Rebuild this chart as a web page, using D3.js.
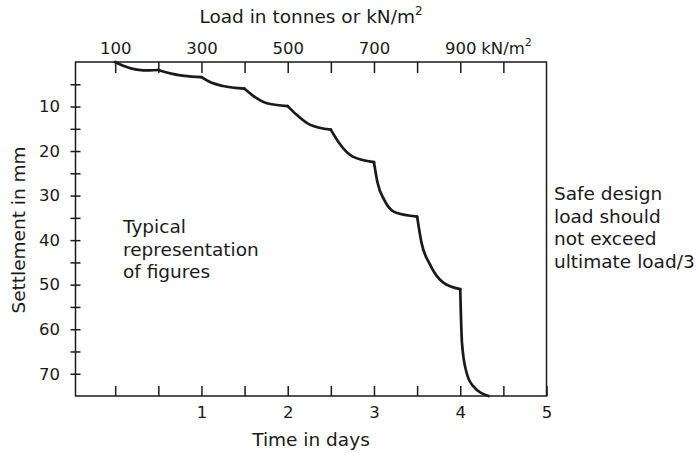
<!DOCTYPE html>
<html>
<head>
<meta charset="utf-8">
<script src="https://cdn.jsdelivr.net/npm/d3@7"></script>
<style>
  body { margin: 0; background: #fff; }
  text { font-family: "DejaVu Sans", sans-serif; fill: #1a1a1a; }
</style>
</head>
<body>
<svg id="chart" width="697" height="453"></svg>
<script>
// load stages, one every half day
var loadDays = [0, 1, 2, 3, 4];
var loadLabels = ["100", "300", "500", "700", "900"];
var halfDays = [0, 0.5, 1, 1.5, 2, 2.5, 3, 3.5, 4, 4.5];
var timeTicks = [0, 0.5, 1, 1.5, 2, 2.5, 3, 3.5, 4, 4.5, 5];
var settleTicks = [5, 10, 15, 20, 25, 30, 35, 40, 45, 50, 55, 60, 65, 70];
var stageBreaks = [0.5, 1, 1.5, 2, 2.5, 3, 3.5, 4];

// settlement curve (days, mm)
var curveDays = [0, 0.1, 0.25, 0.4, 0.5,
  0.65, 0.8, 1.0,
  1.1, 1.25, 1.5,
  1.6, 1.75, 2.0,
  2.1, 2.25, 2.5,
  2.6, 2.75, 3.0,
  3.04, 3.12, 3.25, 3.5,
  3.55, 3.65, 3.8, 4.0,
  4.02, 4.07, 4.15, 4.33];
var curveMm = [0, 0.9, 1.7, 1.9, 1.8,
  2.6, 3.1, 3.4,
  4.5, 5.4, 6.0,
  7.6, 9.2, 9.9,
  11.8, 14.0, 15.2,
  18.3, 21.2, 22.5,
  27.0, 31.0, 33.8, 34.7,
  40.5, 45.5, 49.5, 51.0,
  63.0, 69.5, 72.8, 75.0];

var svg = d3.select("#chart");
var x = d3.scaleLinear().domain([-0.46, 5]).range([75.5, 546.5]);
var y = d3.scaleLinear().domain([0, 75]).range([62, 396]);

// frame
svg.append("rect")
  .attr("x", x.range()[0]).attr("y", y.range()[0])
  .attr("width", x.range()[1] - x.range()[0])
  .attr("height", y.range()[1] - y.range()[0])
  .attr("fill", "none").attr("stroke", "#1a1a1a").attr("stroke-width", 1.5);

// top axis: load
var topAxis = svg.append("g")
  .attr("transform", "translate(0," + y.range()[0] + ")")
  .call(d3.axisTop(x).tickValues(halfDays).tickSize(-11)
    .tickFormat(function(d){ var i = loadDays.indexOf(d); return i >= 0 ? loadLabels[i] : ""; }));
topAxis.select(".domain").remove();
topAxis.selectAll("line").attr("stroke", "#1a1a1a").attr("stroke-width", 1.5);
topAxis.selectAll("text").attr("font-size", 16.5).attr("font-family", "DejaVu Sans").attr("fill", "#1a1a1a")
  .attr("y", -8).attr("dy", 0);
var last = topAxis.selectAll("text").filter(function(d){ return d === 4; });
var w900 = last.node().getComputedTextLength();
var unit = svg.append("text")
  .attr("x", x(4) + w900 / 2).attr("y", 54)
  .attr("font-size", 16.5);
unit.append("tspan").text("\u00a0kN/m");
unit.append("tspan").attr("font-size", 11).attr("dy", -8).text("2");

// bottom axis: time
var bottomAxis = svg.append("g")
  .attr("transform", "translate(0," + y.range()[1] + ")")
  .call(d3.axisBottom(x).tickValues(timeTicks).tickSize(-10)
    .tickFormat(function(d){ return (d > 0 && d % 1 === 0) ? d : ""; }));
bottomAxis.select(".domain").remove();
bottomAxis.selectAll("line").attr("stroke", "#1a1a1a").attr("stroke-width", 1.5);
bottomAxis.selectAll("text").attr("font-size", 16.5).attr("font-family", "DejaVu Sans").attr("fill", "#1a1a1a")
  .attr("y", 22).attr("dy", 0);

// left axis: settlement
var leftAxis = svg.append("g")
  .attr("transform", "translate(" + x.range()[0] + ",0)")
  .call(d3.axisLeft(y).tickValues(settleTicks)
    .tickFormat(function(d){ return d % 10 === 0 ? d : ""; }));
leftAxis.select(".domain").remove();
leftAxis.selectAll("line").attr("x1", -5).attr("x2", 5).attr("stroke", "#1a1a1a").attr("stroke-width", 1.5);
leftAxis.selectAll("text").attr("font-size", 16.5).attr("font-family", "DejaVu Sans").attr("fill", "#1a1a1a")
  .attr("x", -15.5);

// settlement curve, one smooth piece per load stage
var pts = curveDays.map(function(d, i){ return [d, curveMm[i]]; });
var stages = [[]];
pts.forEach(function(p){
  stages[stages.length - 1].push(p);
  if (stageBreaks.indexOf(p[0]) >= 0) stages.push([p]);
});
var line = d3.line()
  .x(function(d){ return x(d[0]); })
  .y(function(d){ return y(d[1]); })
  .curve(d3.curveMonotoneX);
svg.append("g").selectAll("path")
  .data(stages).enter().append("path")
  .attr("d", line)
  .attr("fill", "none").attr("stroke", "#1a1a1a").attr("stroke-width", 2.7)
  .attr("stroke-linecap", "round").attr("stroke-linejoin", "round");

// titles
var ttl = svg.append("text").attr("x", 311).attr("y", 23).attr("font-size", 18.5).attr("text-anchor", "middle");
ttl.append("tspan").text("Load in tonnes or kN/m");
ttl.append("tspan").attr("font-size", 12).attr("dy", -8).text("2");

svg.append("text").attr("x", 311).attr("y", 446).attr("font-size", 18.5)
  .attr("text-anchor", "middle").text("Time in days");

svg.append("text").attr("transform", "translate(25,230) rotate(-90)")
  .attr("font-size", 18.5).attr("text-anchor", "middle").text("Settlement in mm");

// notes
var note1 = ["Typical", "representation", "of figures"];
svg.append("text").attr("font-size", 18.5)
  .selectAll("tspan").data(note1).enter().append("tspan")
  .attr("x", 123).attr("y", function(d, i){ return 233 + i * 22.5; })
  .text(function(d){ return d; });

var note2 = ["Safe design", "load should", "not exceed", "ultimate load/3"];
svg.append("text").attr("font-size", 18.5)
  .selectAll("tspan").data(note2).enter().append("tspan")
  .attr("x", 554).attr("y", function(d, i){ return 200 + i * 22.7; })
  .text(function(d){ return d; });
</script>
</body>
</html>
